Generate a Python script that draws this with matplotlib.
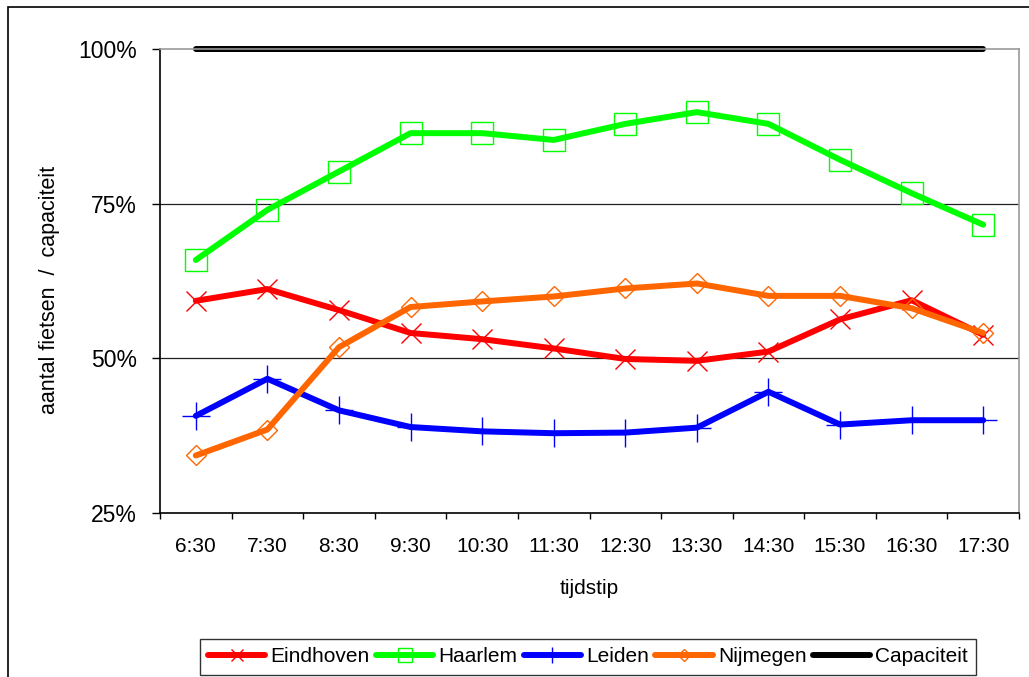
import matplotlib.pyplot as plt
from matplotlib.patches import Rectangle

plt.rcParams['font.family'] = ['Liberation Sans', 'DejaVu Sans']

tijden = ['6:30', '7:30', '8:30', '9:30', '10:30', '11:30',
          '12:30', '13:30', '14:30', '15:30', '16:30', '17:30']

eindhoven = [59.3, 61.2, 57.8, 54.1, 53.1, 51.6, 49.9, 49.6, 51.1, 56.3, 59.4, 53.8]
haarlem = [65.9, 74.0, 80.2, 86.4, 86.4, 85.3, 87.9, 89.8, 87.9, 82.1, 76.7, 71.6]
leiden = [40.7, 46.7, 41.6, 38.9, 38.2, 37.9, 38.0, 38.8, 44.6, 39.3, 40.0, 40.0]
nijmegen = [34.3, 38.5, 51.8, 58.3, 59.2, 60.0, 61.3, 62.1, 60.1, 60.1, 58.1, 54.1]
capaciteit = [100] * 12

fig = plt.figure(figsize=(10.29, 6.77), dpi=100)
ax = fig.add_axes([0.1555, 0.2422, 0.8348, 0.6854])

x = list(range(len(tijden)))
lijn = dict(linewidth=4.3, solid_capstyle='round', solid_joinstyle='round',
            clip_on=False, markerfacecolor='none')

ax.plot(x, eindhoven, color='#ff0000', marker='x', markersize=14,
        markeredgewidth=1.0, label='Eindhoven', **lijn)
ax.plot(x, haarlem, color='#00ff00', marker='s', markersize=16,
        markeredgewidth=1.0, markeredgecolor='#00ff00', label='Haarlem', **lijn)
ax.plot(x, leiden, color='#0000ff', marker='+', markersize=20,
        markeredgewidth=1.0, label='Leiden', **lijn)
ax.plot(x, nijmegen, color='#ff6600', marker='D', markersize=10,
        markeredgewidth=1.0, markeredgecolor='#ff6600', label='Nijmegen', **lijn)
ax.plot(x, capaciteit, color='black', label='Capaciteit', **lijn)

ax.set_ylim(25, 100)
ax.set_xlim(-0.5, 11.5)
ax.set_yticks([25, 50, 75, 100])
ax.set_yticklabels(['25%', '50%', '75%', '100%'], fontsize=16.5)
for yv in [50, 75]:
    ax.axhline(yv, color='#202020', linewidth=0.9, zorder=0)

ax.set_xticks(x)
ax.set_xticklabels(tijden, fontsize=15)
ax.set_xticks([i - 0.5 for i in range(13)], minor=True)
ax.tick_params(axis='x', which='major', length=0, pad=17)
ax.tick_params(axis='x', which='minor', length=4.5, width=1.0, direction='out')
ax.tick_params(axis='y', length=5.5, width=1.0, pad=11)

for side in ['left', 'bottom']:
    ax.spines[side].set_color('black')
    ax.spines[side].set_linewidth(1.2)
for side in ['top', 'right']:
    ax.spines[side].set_color('#999999')
    ax.spines[side].set_linewidth(1.2)

fig.text(50 / 1029, 1 - 290 / 677, 'aantal fietsen  /  capaciteit',
         rotation=90, ha='center', va='center', fontsize=15.5)
fig.text(589 / 1029, 1 - 588 / 677, 'tijdstip', ha='center', va='center',
         fontsize=15)

leg = fig.legend(loc='center', bbox_to_anchor=(588 / 1029, 1 - 657 / 677),
                 ncol=5, fontsize=15, frameon=True, fancybox=False,
                 handlelength=2.75, handletextpad=0.25, columnspacing=0.3,
                 borderpad=0.4, borderaxespad=0, markerscale=0.6)
leg.get_frame().set_edgecolor('black')
leg.get_frame().set_linewidth(1.0)

# outer chart border
fig.patches.append(Rectangle((8 / 1029, -0.2), 1.2, 1.2 - 7 / 677,
                             transform=fig.transFigure, fill=False,
                             edgecolor='black', linewidth=1.2))

fig.savefig('out.png', dpi=100)
